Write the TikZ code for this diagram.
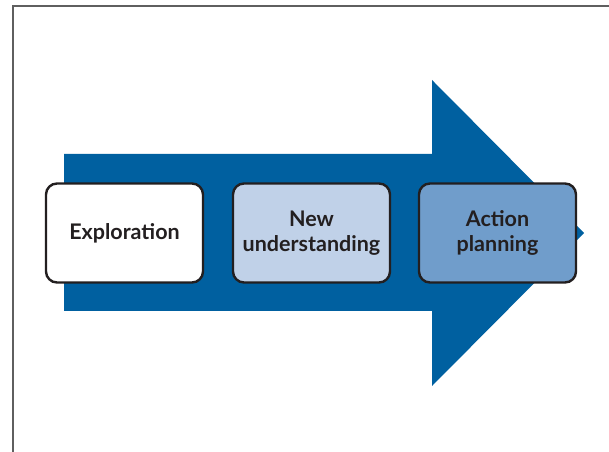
\documentclass[tikz,border=0pt]{standalone}
\usepackage{fontspec}
\setmainfont{Lato}
\usepackage{xcolor}
\definecolor{arrowblue}{RGB}{0,96,160}
\definecolor{paleblue}{RGB}{192,209,232}
\definecolor{midblue}{RGB}{112,157,203}
\definecolor{boxline}{RGB}{35,31,32}
\definecolor{framegray}{RGB}{95,95,95}

\begin{document}
\begin{tikzpicture}[x=1bp,y=1bp,
  stagebox/.style={draw=boxline, line width=2.4bp, rounded corners=11bp,
    minimum width=157bp, minimum height=99bp, align=center,
    font=\bfseries\fontsize{21.5bp}{24.5bp}\selectfont, text=boxline}]
\useasboundingbox (0,0) rectangle (609,452);
\draw[framegray, line width=1.6bp] (13,0) -- (13,446) -- (609,446);
\fill[arrowblue] (64,141) -- (432,141) -- (432,66) -- (584,219) -- (432,372) -- (432,298) -- (64,298) -- cycle;
\node[stagebox, fill=white] (explore) at (124.5,219) {Exploration};
\node[stagebox, fill=paleblue] (understand) at (311.5,219) {New\\understanding};
\node[stagebox, fill=midblue] (plan) at (497.5,219) {Action\\planning};
\end{tikzpicture}
\end{document}
